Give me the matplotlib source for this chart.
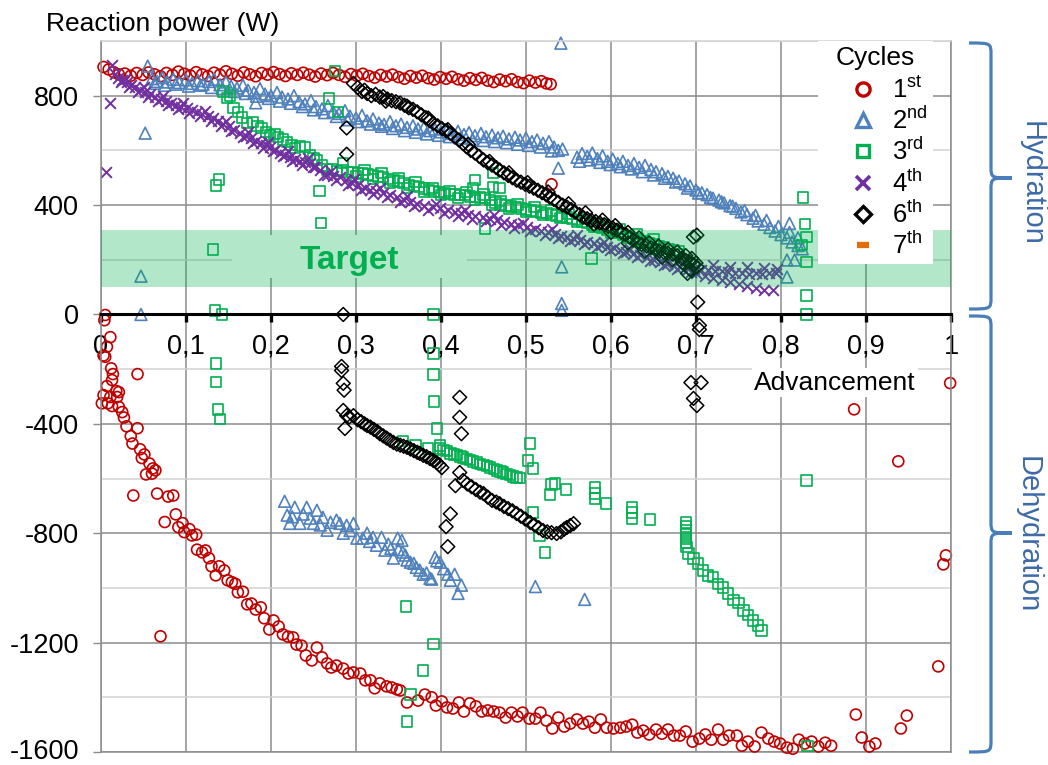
import matplotlib
matplotlib.use('Agg')
import matplotlib.pyplot as plt
from matplotlib.ticker import MultipleLocator
from matplotlib.lines import Line2D
from matplotlib.patches import Rectangle, PathPatch
from matplotlib.path import Path
from matplotlib.transforms import ScaledTranslation

plt.rcParams['font.family'] = ['Liberation Sans', 'DejaVu Sans']
plt.rcParams['mathtext.fontset'] = 'custom'
plt.rcParams['mathtext.rm'] = 'Liberation Sans'
plt.rcParams['mathtext.it'] = 'Liberation Sans:italic'
plt.rcParams['mathtext.bf'] = 'Liberation Sans:bold'

# ---------------- data (advancement, reaction power W) ----------------
cycle_labels = [r'1$^{\mathrm{st}}$', r'2$^{\mathrm{nd}}$', r'3$^{\mathrm{rd}}$',
                r'4$^{\mathrm{th}}$', r'6$^{\mathrm{th}}$', r'7$^{\mathrm{th}}$']

c1_hydration = [(0.003,905),(0.009,896),(0.015,886),(0.021,878),(0.028,881),(0.035,873),(0.042,883),(0.049,876),
    (0.056,885),(0.063,878),(0.07,871),(0.077,883),(0.084,876),(0.091,888),(0.098,880),(0.105,874),(0.112,886),
    (0.119,878),(0.126,872),(0.133,884),(0.14,877),(0.147,889),(0.154,880),(0.161,873),(0.168,885),(0.175,878),
    (0.182,871),(0.189,883),(0.196,877),(0.203,886),(0.21,879),(0.217,872),(0.224,882),(0.231,876),(0.238,884),
    (0.245,877),(0.252,870),(0.259,881),(0.266,875),(0.273,883),(0.28,876),(0.287,869),(0.294,879),(0.301,873),
    (0.308,880),(0.315,872),(0.322,866),(0.329,876),(0.336,870),(0.343,877),(0.35,868),(0.357,862),(0.364,872),
    (0.371,866),(0.378,873),(0.385,864),(0.392,859),(0.399,868),(0.406,862),(0.413,869),(0.42,860),(0.427,855),
    (0.434,864),(0.441,858),(0.448,865),(0.455,855),(0.462,850),(0.469,859),(0.476,853),(0.483,860),(0.49,850),
    (0.497,846),(0.504,855),(0.511,848),(0.518,853),(0.524,845),(0.529,842),(0.53,476)]

c1_dehydration = [(0.005,-2),(0.004,-21),(0.011,-83),(0.007,-118),(0.003,-150),(0.005,-155),(0.012,-197),
    (0.043,-218),(0.014,-218),(0.013,-240),(0.007,-262),(0.018,-280),(0.021,-284),(0.003,-295),(0.011,-302),
    (0.019,-302),(0.001,-325),(0.008,-325),(0.013,-335),(0.021,-338),(0.025,-357),(0.027,-377),(0.030,-409),
    (0.043,-416),(0.035,-445),(0.037,-472),(0.046,-493),(0.051,-512),(0.048,-525),(0.057,-545),(0.061,-563),
    (0.064,-570),(0.053,-585),(0.060,-582),(0.038,-662),(0.066,-655),(0.079,-666),(0.085,-662),(0.075,-759),
    (0.088,-731),(0.091,-778),(0.096,-763),(0.098,-796),(0.104,-785),(0.107,-808),(0.112,-805),(0.113,-860),
    (0.119,-870),(0.123,-863),(0.127,-891),(0.130,-921),(0.135,-954),(0.139,-921),(0.145,-936),(0.149,-972),
    (0.154,-979),(0.158,-985),(0.161,-1016),(0.167,-1014),(0.172,-1060),(0.177,-1057),(0.182,-1079),
    (0.188,-1071),(0.192,-1111),(0.198,-1152),(0.203,-1119),(0.209,-1141),(0.214,-1170),(0.220,-1178),
    (0.226,-1181),(0.230,-1207),(0.236,-1211),(0.241,-1247),(0.248,-1265),(0.254,-1218),(0.260,-1254),
    (0.266,-1276),(0.271,-1291),(0.277,-1284),(0.285,-1295),(0.291,-1313),(0.297,-1309),(0.305,-1313),
    (0.311,-1338),(0.317,-1338),(0.322,-1367),(0.328,-1349),(0.336,-1360),(0.342,-1364),(0.348,-1371),
    (0.070,-1177),(0.352,-1375),(0.360,-1419),(0.373,-1412),(0.381,-1390),(0.389,-1400),(0.394,-1430),
    (0.401,-1415),(0.407,-1437),(0.414,-1441),(0.421,-1419),(0.427,-1452),(0.434,-1422),(0.441,-1433),
    (0.448,-1452),(0.455,-1448),(0.462,-1452),(0.469,-1456),(0.476,-1474),(0.483,-1456),(0.490,-1470),
    (0.496,-1456),(0.504,-1478),(0.511,-1478),(0.517,-1456),(0.524,-1485),(0.531,-1514),(0.538,-1474),
    (0.545,-1507),(0.552,-1496),(0.560,-1481),(0.567,-1496),(0.574,-1489),(0.581,-1511),(0.588,-1481),
    (0.595,-1511),(0.603,-1514),(0.611,-1511),(0.618,-1507),(0.625,-1500),(0.631,-1529),(0.638,-1522),
    (0.645,-1536),(0.653,-1518),(0.660,-1533),(0.667,-1518),(0.674,-1540),(0.681,-1540),(0.688,-1525),
    (0.696,-1562),(0.704,-1551),(0.711,-1536),(0.718,-1555),(0.726,-1518),(0.732,-1555),(0.739,-1540),
    (0.748,-1540),(0.754,-1577),(0.761,-1562),(0.769,-1580),(0.777,-1529),(0.785,-1551),(0.792,-1562),
    (0.799,-1569),(0.807,-1584),(0.814,-1588),(0.821,-1555),(0.828,-1569),(0.836,-1562),(0.844,-1580),
    (0.852,-1566),(0.859,-1577),(0.999,-251),(0.886,-347),(0.938,-537),(0.994,-881),(0.991,-914),
    (0.985,-1287),(0.888,-1463),(0.948,-1467),(0.941,-1514),(0.895,-1547),(0.904,-1580),(0.911,-1569)]

c2_hydration = [(0.055,908),(0.06,862),(0.066,852),(0.072,866),(0.078,850),(0.085,860),(0.092,848),(0.1,858),
    (0.107,845),(0.114,855),(0.12,842),(0.127,852),(0.133,860),(0.14,840),(0.147,850),(0.153,835),(0.16,828),
    (0.167,838),(0.173,820),(0.18,812),(0.187,826),(0.193,806),(0.2,800),(0.207,812),(0.213,795),(0.22,788),
    (0.227,800),(0.233,778),(0.24,770),(0.247,782),(0.253,760),(0.26,752),(0.267,764),(0.273,742),(0.28,735),
    (0.287,745),(0.293,725),(0.3,718),(0.307,728),(0.313,708),(0.32,715),(0.327,700),(0.333,695),(0.34,705),
    (0.347,690),(0.353,696),(0.36,684),(0.367,690),(0.373,678),(0.38,684),(0.387,672),(0.393,678),(0.4,668),
    (0.407,675),(0.413,662),(0.42,670),(0.427,658),(0.433,665),(0.44,654),(0.447,662),(0.453,650),(0.46,656),
    (0.467,646),(0.473,652),(0.48,642),(0.487,648),(0.493,638),(0.5,645),(0.507,632),(0.513,638),(0.52,626),
    (0.527,632),(0.533,612),(0.538,600),(0.543,605),
    (0.56,575),(0.566,588),(0.572,578),(0.578,590),(0.584,570),(0.59,580),(0.596,560),(0.602,568),(0.608,552),
    (0.614,560),(0.62,545),(0.627,552),(0.633,538),(0.64,545),(0.647,530),(0.653,522),(0.66,515),(0.667,505),
    (0.673,498),(0.68,488),(0.687,478),(0.693,470),(0.7,455),(0.707,445),(0.713,438),(0.72,425),(0.727,418),
    (0.733,408),(0.74,398),(0.747,388),(0.753,375),(0.76,365),(0.767,352),(0.773,342),(0.78,330),(0.787,318),
    (0.793,305),(0.8,292),(0.807,280),(0.813,265),(0.82,252),(0.825,240),
    (0.063,845),(0.075,838),(0.088,842),(0.103,835),(0.117,838),(0.13,830),(0.143,826),(0.157,815),(0.17,808),
    (0.183,798),(0.197,790),(0.21,780),(0.223,772),(0.237,760),(0.25,748),(0.263,738),(0.277,724),(0.29,712),
    (0.303,705),(0.317,696),(0.33,688),(0.343,680),(0.357,672),(0.37,666),(0.383,660),(0.397,655),(0.41,650),
    (0.423,645),(0.437,640),(0.45,636),(0.463,632),(0.477,628),(0.49,622),(0.503,618),(0.517,612),(0.53,598),
    (0.563,560),(0.575,565),(0.587,556),(0.599,548),(0.611,540),(0.624,532),(0.637,522),(0.65,510),(0.663,498),
    (0.676,484),(0.69,462),(0.703,444),(0.717,428),(0.73,412),(0.743,396),(0.757,380),(0.77,362),(0.783,344),
    (0.797,322),(0.81,300),(0.82,280),
    (0.052,663),(0.047,140),(0.047,0),(0.182,774),(0.538,535),(0.542,174),(0.542,40),(0.542,15),(0.541,992),
    (0.81,333),(0.807,199),(0.807,137),(0.816,199)]

c2_dehydration = [(0.216,-683),(0.228,-705),(0.219,-734),(0.222,-764),(0.242,-705),(0.234,-764),(0.254,-716),
    (0.250,-764),(0.261,-742),(0.266,-789),(0.277,-752),(0.281,-764),(0.289,-771),(0.297,-764),(0.285,-800),
    (0.301,-818),(0.308,-818),(0.320,-815),(0.330,-815),(0.324,-844),(0.334,-862),(0.349,-818),(0.344,-891),
    (0.354,-826),(0.358,-880),(0.355,-869),(0.364,-906),(0.360,-898),(0.371,-925),(0.368,-910),(0.379,-950),
    (0.375,-935),(0.389,-968),(0.387,-965),(0.395,-901),(0.393,-888),(0.403,-930),(0.399,-906),(0.411,-972),
    (0.416,-950),(0.424,-990),(0.420,-1020),(0.225,-740),(0.238,-730),(0.246,-745),(0.258,-770),(0.27,-760),
    (0.293,-790),(0.313,-800),(0.316,-830),(0.338,-840),(0.341,-855),(0.35,-860),(0.383,-945),(0.408,-950),
    (0.511,-995),(0.569,-1042)]

c3_hydration = [(0.144,815),(0.148,791),(0.152,800),(0.156,755),(0.161,741),(0.166,720),(0.172,700),(0.179,704),
    (0.184,690),(0.189,682),(0.194,668),(0.199,656),(0.204,660),(0.208,649),(0.214,640),(0.219,631),(0.224,620),
    (0.228,609),(0.234,615),(0.240,613),(0.246,583),(0.25,570),(0.254,565),(0.26,545),(0.266,530),(0.272,532),
    (0.278,525),(0.284,528),(0.29,520),(0.296,522),(0.302,518),(0.308,515),(0.314,512),(0.32,508),(0.326,505),
    (0.332,502),(0.338,495),(0.344,490),(0.35,486),(0.356,480),(0.362,474),(0.368,470),(0.374,466),(0.38,460),
    (0.386,455),(0.392,450),(0.398,447),(0.404,444),(0.41,440),(0.416,438),(0.422,436),(0.428,436),(0.434,432),
    (0.44,430),(0.446,428),(0.452,425),(0.458,418),(0.464,410),(0.47,402),(0.476,398),(0.482,395),(0.488,392),
    (0.494,388),(0.5,384),(0.506,380),(0.512,376),(0.518,373),(0.524,370),(0.53,366),(0.536,362),(0.542,358),
    (0.548,355),(0.554,350),(0.56,345),(0.566,338),(0.572,334),(0.578,328),(0.584,322),(0.59,316),(0.596,310),
    (0.602,305),(0.608,298),(0.614,292),(0.62,286),(0.626,280),(0.632,274),(0.638,268),(0.644,262),(0.65,256),
    (0.656,250),(0.662,246),(0.668,240),(0.674,235),(0.68,230),
    (0.3,505),(0.32,495),(0.34,482),(0.36,462),(0.38,448),(0.4,436),(0.42,425),(0.44,418),(0.46,400),(0.48,388),
    (0.5,374),(0.52,364),(0.54,352),(0.56,340),(0.58,320),(0.6,300),(0.62,280),(0.64,262),(0.66,240),(0.68,222),
    (0.31,528),(0.33,518),(0.35,498),(0.37,485),(0.39,462),(0.41,452),(0.43,448),(0.45,438),(0.47,415),(0.49,402),
    (0.51,392),(0.53,380),(0.55,368),(0.57,350),(0.59,330),(0.61,312),(0.63,295),(0.65,275),
    (0.132,238),(0.134,15),(0.142,0),(0.135,472),(0.139,494),(0.257,451),(0.259,334),(0.268,790),(0.275,890),
    (0.279,741),(0.285,553),(0.44,491),(0.461,466),(0.469,462),(0.438,462),(0.452,315),(0.461,517),(0.577,205),
    (0.391,0),(0.826,428),(0.828,330),(0.83,283),(0.824,253),(0.83,191),(0.83,70),(0.83,0)]

c3_dehydration = [(0.399,-490),(0.403,-495),(0.407,-500),(0.411,-508),(0.415,-512),(0.419,-515),(0.423,-520),
    (0.426,-523),(0.43,-528),(0.434,-532),(0.438,-537),(0.442,-541),(0.446,-546),(0.45,-550),(0.454,-555),
    (0.458,-560),(0.462,-565),(0.466,-570),(0.47,-574),(0.473,-578),(0.477,-583),(0.481,-588),(0.485,-592),
    (0.489,-596),(0.493,-598),(0.355,-462),(0.37,-478),(0.385,-490),
    (0.391,-143),(0.391,-220),(0.392,-318),(0.395,-417),(0.399,-479),(0.505,-472),(0.502,-534),(0.508,-563),
    (0.530,-622),(0.534,-618),(0.528,-658),(0.547,-640),(0.508,-724),(0.516,-808),(0.522,-870),(0.581,-633),
    (0.581,-655),(0.581,-673),(0.594,-691),(0.625,-706),(0.625,-724),(0.625,-746),(0.646,-750),(0.135,-179),
    (0.135,-248),(0.138,-347),(0.140,-383),(0.359,-1068),(0.391,-1204),(0.379,-1302),(0.364,-1390),
    (0.360,-1489),(0.831,-1577),(0.830,-607),
    (0.688,-761),(0.688,-775),(0.688,-790),(0.688,-805),(0.688,-820),(0.688,-835),(0.689,-850),(0.691,-874),
    (0.697,-892),(0.702,-911),(0.708,-936),(0.714,-954),(0.72,-961),(0.726,-985),(0.732,-998),(0.738,-1021),
    (0.744,-1045),(0.75,-1056),(0.756,-1082),(0.761,-1100),(0.767,-1119),(0.773,-1137),(0.777,-1155)]

c4_hydration = [(0.013,912),(0.016,880),(0.02,866),(0.025,858),(0.03,850),(0.035,840),(0.04,830),(0.046,821),
    (0.052,812),(0.058,805),(0.064,795),(0.07,788),(0.076,780),(0.082,774),(0.088,766),(0.094,760),(0.101,755),
    (0.107,746),(0.113,740),(0.119,732),(0.126,726),(0.132,719),(0.138,708),(0.144,698),(0.15,688),(0.157,676),
    (0.164,664),(0.17,654),(0.176,645),(0.182,636),(0.188,628),(0.194,620),(0.199,613),(0.205,602),(0.211,592),
    (0.217,584),(0.222,576),(0.228,568),(0.234,562),(0.24,558),(0.246,554),(0.252,540),(0.258,528),(0.266,510),
    (0.273,506),(0.281,503),(0.288,492),(0.295,482),(0.302,472),(0.31,464),(0.317,456),(0.324,450),(0.332,444),
    (0.34,436),(0.348,428),(0.356,420),(0.364,412),(0.372,404),(0.38,398),(0.39,393),(0.399,389),(0.408,382),
    (0.416,376),(0.424,370),(0.432,364),(0.44,360),(0.449,356),(0.458,350),(0.466,344),(0.474,338),(0.482,332),
    (0.49,326),(0.501,319),(0.51,312),(0.518,306),(0.526,300),(0.534,294),(0.541,288),(0.548,283),(0.556,276),
    (0.564,272),(0.572,266),(0.58,260),(0.588,254),(0.595,247),(0.603,242),(0.61,236),(0.618,228),(0.626,222),
    (0.634,216),(0.642,210),(0.65,200),(0.658,192),(0.666,185),(0.674,178),(0.681,173),(0.69,168),(0.698,165),
    (0.706,163),(0.714,162),(0.722,160),(0.73,158),(0.738,155),(0.746,152),(0.754,150),(0.762,148),(0.77,150),
    (0.778,148),(0.786,150),(0.794,150),
    (0.023,850),(0.033,832),(0.043,815),(0.055,795),(0.067,780),(0.079,765),(0.091,750),(0.104,738),(0.116,725),
    (0.129,708),(0.141,690),(0.153,672),(0.167,648),(0.179,628),(0.191,610),(0.202,596),(0.214,578),(0.225,562),
    (0.237,548),(0.249,538),(0.262,510),(0.277,490),(0.291,475),(0.306,456),(0.32,442),(0.336,428),(0.352,412),
    (0.368,396),(0.385,382),(0.403,372),(0.42,360),(0.436,350),(0.453,340),(0.47,328),(0.486,318),(0.505,305),
    (0.522,292),(0.538,280),(0.552,270),(0.568,258),(0.584,246),(0.599,236),(0.614,224),(0.63,210),(0.646,196),
    (0.662,182),(0.678,168),(0.694,156),
    (0.028,862),(0.05,830),(0.073,800),(0.097,772),(0.122,745),(0.147,708),(0.173,668),(0.197,632),(0.22,596),
    (0.243,572),(0.27,525),(0.298,494),(0.328,462),(0.36,432),(0.394,404),(0.428,382),(0.462,362),(0.497,336),
    (0.53,312),(0.56,290),(0.592,266),(0.622,240),(0.654,212),(0.686,188),
    (0.7,150),(0.71,140),(0.72,135),(0.73,125),(0.74,118),(0.75,112),(0.76,105),(0.77,98),(0.78,90),(0.79,90),
    (0.72,180),(0.74,175),(0.76,172),(0.78,170),(0.795,168),
    (0.006,521),(0.010,774)]

c6_hydration = [(0.297,845),(0.302,830),(0.307,815),(0.313,808),(0.318,800),(0.323,805),(0.328,795),(0.332,797),
    (0.337,788),(0.342,782),(0.347,778),(0.352,773),(0.357,765),(0.362,756),(0.367,750),(0.372,741),(0.377,730),
    (0.382,720),(0.387,708),(0.391,699),(0.396,690),(0.401,680),(0.406,672),(0.411,662),(0.416,650),(0.421,638),
    (0.426,625),(0.43,613),(0.435,600),(0.44,590),(0.445,578),(0.45,565),(0.455,555),(0.46,546),(0.465,537),
    (0.469,528),(0.474,518),(0.479,508),(0.484,500),(0.489,491),(0.494,484),(0.499,476),(0.504,469),(0.509,462),
    (0.514,454),(0.519,445),(0.524,437),(0.528,429),(0.533,420),(0.538,410),(0.543,400),(0.548,393),(0.553,384),
    (0.558,374),(0.563,365),(0.567,356),(0.572,350),(0.577,344),(0.582,340),(0.587,334),(0.592,328),(0.597,322),
    (0.602,316),(0.607,308),(0.612,300),(0.617,292),(0.622,282),(0.626,272),(0.631,264),(0.636,256),(0.642,250),
    (0.647,244),(0.652,238),(0.657,232),(0.662,228),(0.667,224),(0.673,220),(0.678,214),(0.683,205),(0.688,198),
    (0.693,191),(0.697,183),(0.701,174),(0.695,160),(0.693,165),(0.69,150),
    (0.31,820),(0.335,780),(0.36,762),(0.385,718),(0.408,676),(0.432,622),(0.457,560),(0.48,518),(0.502,482),
    (0.526,448),(0.55,405),(0.57,372),(0.59,345),(0.605,325),(0.62,300),(0.633,280),(0.645,262),(0.656,250),
    (0.667,238),(0.678,228),(0.688,215),(0.695,205),(0.66,210),(0.672,200),(0.684,190),(0.7,188),(0.64,232),
    (0.62,262),(0.6,300),(0.58,330),
    (0.285,0),(0.289,682),(0.289,586),(0.701,290),(0.697,283),(0.702,45)]

c6_dehydration = [(0.292,-375),(0.297,-370),(0.302,-385),(0.306,-392),(0.31,-400),(0.313,-406),(0.317,-412),
    (0.321,-420),(0.325,-428),(0.328,-436),(0.332,-444),(0.336,-452),(0.34,-460),(0.344,-468),(0.348,-474),
    (0.352,-478),(0.356,-482),(0.36,-486),(0.364,-492),(0.368,-498),(0.372,-504),(0.375,-508),(0.379,-515),
    (0.383,-520),(0.387,-527),(0.391,-534),(0.395,-542),(0.398,-550),(0.401,-560),
    (0.426,-607),(0.431,-620),(0.436,-630),(0.441,-640),(0.446,-650),(0.45,-655),(0.455,-668),(0.46,-680),
    (0.465,-686),(0.469,-692),(0.474,-702),(0.479,-710),(0.484,-718),(0.489,-728),(0.494,-738),(0.499,-748),
    (0.505,-761),(0.51,-770),(0.515,-780),(0.52,-790),(0.525,-795),(0.53,-798),(0.536,-801),(0.541,-795),
    (0.545,-785),(0.548,-779),(0.552,-772),(0.556,-765),
    (0.283,-190),(0.283,-205),(0.285,-252),(0.286,-277),(0.285,-351),(0.289,-370),(0.287,-417),
    (0.422,-303),(0.422,-376),(0.424,-436),(0.422,-578),(0.417,-626),(0.411,-729),(0.406,-776),(0.408,-849),
    (0.704,-40),(0.704,-55),(0.694,-249),(0.706,-249),(0.697,-307),(0.701,-333)]

c7_points = []

target_low, target_high = 100, 310
x_ticks = [0, 0.1, 0.2, 0.3, 0.4, 0.5, 0.6, 0.7, 0.8, 0.9, 1.0]
x_tick_labels = ['0', '0,1', '0,2', '0,3', '0,4', '0,5', '0,6', '0,7', '0,8', '0,9', '1']
y_ticks = [800, 400, 0, -400, -800, -1200, -1600]
y_tick_labels = ['800', '400', '0', '-400', '-800', '-1200', '-1600']

# ---------------- styles ----------------
RED, BLUE, GREEN, PURPLE, BLACK, ORANGE = '#c00000', '#4f81bd', '#00b050', '#7030a0', '#000000', '#e46c0a'
MAJ, MINC = '#8c8c8c', '#d2d2d2'

W, H = 1048, 765
fig = plt.figure(figsize=(W / 100, H / 100), dpi=100)
ax = fig.add_axes([101 / W, 13 / H, 850 / W, 711 / H])
ax.set_xlim(0, 1)
ax.set_ylim(-1600, 1000)


def xy(pairs):
    return [p[0] for p in pairs], [p[1] for p in pairs]


series = [
    (c1_hydration + c1_dehydration, 'o', RED, 62, 1.2),
    (c2_hydration + c2_dehydration, '^', BLUE, 72, 1.2),
    (c3_hydration + c3_dehydration, 's', GREEN, 56, 1.2),
    (c4_hydration, 'x', PURPLE, 60, 1.4),
    (c6_hydration + c6_dehydration, 'D', BLACK, 50, 1.1),
    (c7_points, '_', ORANGE, 60, 3),
]
for pts, mk, col, s, lw in series:
    if not pts:
        continue
    x, y = xy(pts)
    if mk in ('x', '_'):
        ax.scatter(x, y, marker=mk, s=s, c=col, linewidths=lw, zorder=2, clip_on=False)
    else:
        ax.scatter(x, y, marker=mk, s=s, facecolors='none', edgecolors=col, linewidths=lw,
                   zorder=2, clip_on=False)

# target band (drawn over the markers, translucent)
ax.axhspan(target_low, target_high, color=GREEN, alpha=0.3, lw=0, zorder=3)
ax.add_patch(Rectangle((0.154, 133), 0.277, 157, fc='white', ec='none', zorder=1.5))
ax.text(0.292, 166, 'Target', color=GREEN, fontsize=24, fontweight='bold',
        ha='center', va='baseline', zorder=4)

# axes / grid
ax.set_xticks(x_ticks)
ax.set_xticklabels(x_tick_labels)
ax.set_yticks(y_ticks)
ylabels = ax.set_yticklabels(y_tick_labels)
ax.yaxis.set_minor_locator(MultipleLocator(200))
ax.set_axisbelow(True)
ax.grid(True, which='major', color=MAJ, lw=1.1)
ax.grid(True, which='minor', axis='y', color=MINC, lw=1.1)
ax.tick_params(axis='y', which='minor', length=0)
ax.tick_params(axis='y', which='major', direction='out', length=6, width=1, color=MAJ,
               labelsize=19.5, pad=10)
ax.tick_params(axis='x', which='major', direction='out', length=6, width=2.4, color='black',
               labelsize=19.5, pad=8)
ylabels[-1].set_transform(ylabels[-1].get_transform() + ScaledTranslation(0, 3 / 100, fig.dpi_scale_trans))
ax.spines['bottom'].set_position(('data', 0))
ax.spines['bottom'].set_color('black')
ax.spines['bottom'].set_linewidth(2.2)
ax.spines['bottom'].set_zorder(2.5)
ax.spines['left'].set_color(MAJ)
ax.spines['right'].set_color(MAJ)
ax.spines['top'].set_color(MINC)
for k in ('left', 'right', 'top'):
    ax.spines[k].set_linewidth(1.1)
ax.axhline(-1600, color=MAJ, lw=1.1, clip_on=False, zorder=0.6)

ax.text(0.8635, -250, 'Advancement', fontsize=19, ha='center', va='center', zorder=4,
        bbox=dict(boxstyle='square,pad=0.1', fc='white', ec='none'))
fig.text(46 / W, 1 - 24 / H, 'Reaction power (W)', fontsize=19, ha='left', va='center')

# legend
handles = [
    Line2D([], [], ls='none', marker='o', mfc='none', mec=RED, mew=2.4, ms=9.5, label=cycle_labels[0]),
    Line2D([], [], ls='none', marker='^', mfc='none', mec=BLUE, mew=2.4, ms=10, label=cycle_labels[1]),
    Line2D([], [], ls='none', marker='s', mfc='none', mec=GREEN, mew=2.4, ms=8, label=cycle_labels[2]),
    Line2D([], [], ls='none', marker='x', color=PURPLE, mew=2.6, ms=10, label=cycle_labels[3]),
    Line2D([], [], ls='none', marker='D', mfc='none', mec=BLACK, mew=2.4, ms=8.5, label=cycle_labels[4]),
    Line2D([], [], ls='none', marker='_', color=ORANGE, mew=4.5, ms=9, label=cycle_labels[5]),
]
leg = ax.legend(handles=handles, title='Cycles', loc='upper right', bbox_to_anchor=(0.979, 1.0),
                borderaxespad=0, frameon=True, fancybox=False, facecolor='white', edgecolor='none',
                framealpha=1, fontsize=18.5, title_fontsize=19, handlelength=3.1, handletextpad=-0.4,
                borderpad=0.2, labelspacing=0.16, numpoints=1)
if hasattr(leg, '_legend_box'):
    leg._legend_box.sep = 5
leg.set_zorder(6)

# braces on the right
BR_COL = '#4a7ebb'


def brace(ytop, ybot, ymid, x0=969, xv=991, xt=1012, r=12):
    P = lambda px, py: (px / W, 1 - py / H)
    verts = [P(x0, ytop), P(xv, ytop), P(xv, ytop), P(xv, ytop + r),
             P(xv, ymid - r), P(xv, ymid), P(xv, ymid), P(xt, ymid),
             P(xv, ymid), P(xv, ymid), P(xv, ymid + r),
             P(xv, ybot - r), P(xv, ybot), P(xv, ybot), P(x0, ybot)]
    codes = [Path.MOVETO, Path.CURVE4, Path.CURVE4, Path.CURVE4, Path.LINETO,
             Path.CURVE4, Path.CURVE4, Path.CURVE4, Path.CURVE4, Path.CURVE4, Path.CURVE4,
             Path.LINETO, Path.CURVE4, Path.CURVE4, Path.CURVE4]
    fig.add_artist(PathPatch(Path(verts, codes), transform=fig.transFigure, fill=False,
                             ec=BR_COL, lw=2.3, capstyle='butt'))


brace(43, 309, 178)
brace(316, 752, 533)
fig.text(1032 / W, 1 - 183 / H, 'Hydration', rotation=-90, fontsize=21, color='#3d6aa8',
         ha='center', va='center')
fig.text(1028 / W, 1 - 535 / H, 'Dehydration', rotation=-90, fontsize=21, color='#3d6aa8',
         ha='center', va='center')

fig.savefig('out.png', dpi=100)
